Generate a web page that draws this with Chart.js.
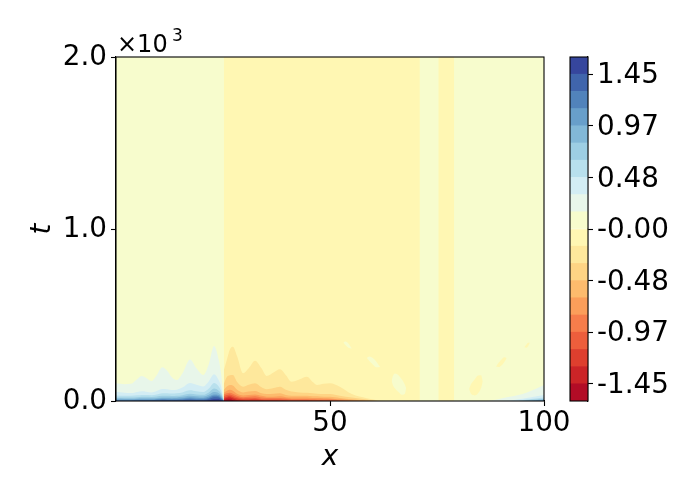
<!DOCTYPE html>
<html>
<head>
<meta charset="utf-8">
<script src="https://cdn.jsdelivr.net/npm/chart.js@4.4.1/dist/chart.umd.min.js"></script>
<style>
  html, body { margin: 0; padding: 0; background: #fff; }
  #wrap { position: relative; width: 700px; height: 500px; }
  #main { position: absolute; left: 0; top: 0; }
  #cbar { position: absolute; left: 560px; top: 0; }
</style>
</head>
<body>
<div id="wrap">
  <canvas id="main" width="700" height="500"></canvas>
  <canvas id="cbar" width="140" height="500"></canvas>
</div>
<script>
// contour levels and colorbar ticks
const levels = [-1.61, -1.449, -1.288, -1.127, -0.966, -0.805, -0.644, -0.483, -0.322, -0.161, 0,
  0.161, 0.322, 0.483, 0.644, 0.805, 0.966, 1.127, 1.288, 1.449, 1.61];
const cbTicks = [-1.449, -0.966, -0.483, 0, 0.483, 0.966, 1.449];
const cbLabels = ["-1.45", "-0.97", "-0.48", "-0.00", "0.48", "0.97", "1.45"];
const xTicks = [50, 100];
const tTicks = [0, 1000, 2000];
const tLabels = ["0.0", "1.0", "2.0"];

// vertical strips far from t=0 (x from, x to, band)
const stripFrom = [0, 25.2, 75.3];
const stripTo = [100, 71, 79];
const stripBand = [10, 9, 9];

// blue wedge, left part (contour heights in t)
const xLeft = [0, 2, 3.5, 5, 6, 7, 8.3, 9.5, 10.8, 12, 13, 14.2, 15.5, 17.3, 18.8, 20.4, 21.7, 22.9, 24, 24.6, 25.2];
const left11 = [103, 98, 100, 128, 145, 135, 116, 150, 196, 175, 140, 122, 160, 242, 190, 151, 215, 320, 240, 150, 0];
const left12 = [54, 48, 46, 52, 56, 54, 50, 58, 70, 68, 64, 66, 78, 105, 95, 85, 115, 155, 120, 80, 0];
const left13 = [32, 30, 30, 33, 35, 35, 34, 38, 45, 45, 43, 45, 50, 62, 56, 52, 72, 105, 85, 55, 0];
const left14 = [20, 20, 20, 22, 24, 24, 23, 26, 30, 30, 29, 30, 34, 42, 38, 36, 50, 72, 60, 40, 0];
const left15 = [14, 13, 13, 15, 16, 16, 16, 18, 21, 21, 20, 21, 24, 30, 27, 26, 36, 52, 45, 30, 0];
const left16 = [8, 8, 8, 10, 10, 10, 10, 12, 15, 14, 13, 14, 16, 22, 19, 18, 26, 38, 35, 22, 0];
const left17 = [4, 4, 4, 5, 6, 6, 6, 7, 10, 9, 8, 9, 10, 14, 12, 12, 18, 30, 27, 16, 0];
const left18 = [0, 0, 0, 1, 2, 2, 2, 3, 5, 4, 3, 4, 5, 8, 6, 6, 12, 22, 20, 10, 0];
const left19 = [0, 0, 0, 0, 0, 0, 0, 0, 0, 0, 0, 0, 0, 0, 0, 0, 4, 12, 12, 5, 0];

// red wedge
const xRight = [25.2, 25.9, 26.6, 27.3, 28.3, 29.7, 31, 32.5, 34, 35.2, 36.8, 38.3, 39.7, 41, 42.8, 44.6, 46, 47, 48.5, 50, 52.3, 55.1, 58.6, 61, 63];
const right8 = [180, 240, 300, 316, 260, 161, 190, 234, 190, 145, 165, 184, 150, 112, 125, 141, 110, 93, 100, 103, 83, 40, 16, 5, 0];
const right7 = [100, 140, 150, 151, 110, 83, 95, 103, 80, 68, 75, 83, 65, 55, 50, 48, 45, 42, 40, 40, 30, 20, 8, 0, 0];
const right6 = [65, 85, 93, 90, 65, 50, 55, 58, 45, 40, 42, 45, 35, 30, 30, 30, 28, 27, 25, 25, 18, 10, 3, 0, 0];
const right5 = [48, 60, 65, 60, 42, 32, 35, 38, 30, 25, 25, 27, 22, 20, 20, 20, 18, 17, 16, 15, 10, 5, 0, 0, 0];
const right4 = [38, 45, 48, 42, 30, 22, 25, 28, 20, 17, 17, 17, 14, 12, 12, 12, 10, 9, 8, 8, 4, 0, 0, 0, 0];
const right3 = [28, 35, 38, 32, 22, 15, 16, 18, 12, 10, 10, 10, 8, 6, 6, 6, 5, 4, 3, 3, 0, 0, 0, 0, 0];
const right2 = [18, 25, 27, 22, 14, 8, 9, 10, 6, 4, 4, 3, 2, 0, 0, 0, 0, 0, 0, 0, 0, 0, 0, 0, 0];
const right1 = [10, 18, 20, 14, 6, 2, 0, 0, 0, 0, 0, 0, 0, 0, 0, 0, 0, 0, 0, 0, 0, 0, 0, 0, 0];
const right0 = [4, 8, 10, 5, 0, 0, 0, 0, 0, 0, 0, 0, 0, 0, 0, 0, 0, 0, 0, 0, 0, 0, 0, 0, 0];

// blue corner at the right edge
const xEnd = [86, 88, 90, 92, 94, 96, 98, 100];
const end11 = [0, 5, 15, 25, 35, 50, 70, 93];
const end12 = [0, 0, 0, 3, 10, 18, 26, 35];
const end13 = [0, 0, 0, 0, 3, 8, 14, 20];
const end14 = [0, 0, 0, 0, 0, 4, 8, 12];
const end15 = [0, 0, 0, 0, 0, 2, 5, 8];
const end16 = [0, 0, 0, 0, 0, 0, 2, 4];

// small islands (x, upper t, lower t)
const isl1X = [53.1, 53.6, 54.3, 55.1], isl1Top = [340, 346, 335, 305], isl1Bot = [340, 325, 310, 305];
const isl2X = [58.6, 59.2, 60, 60.8, 61.7], isl2Top = [250, 258, 250, 230, 198], isl2Bot = [250, 232, 212, 196, 198];
const isl3X = [64.4, 64.7, 65.2, 66, 66.8, 67.5, 67.8], isl3Top = [115, 145, 160, 150, 125, 95, 75], isl3Bot = [115, 92, 72, 52, 36, 42, 75];
const isl4X = [82.5, 83, 83.8, 84.6, 85.3, 85.7], isl4Top = [70, 100, 125, 148, 150, 115], isl4Bot = [70, 40, 32, 45, 75, 115];
const isl5X = [88.8, 89.4, 90, 90.7, 91.3], isl5Top = [200, 222, 240, 255, 250], isl5Bot = [200, 197, 205, 225, 250];
const isl6X = [95.4, 95.9, 96.3, 96.7], isl6Top = [312, 328, 338, 338], isl6Bot = [312, 310, 318, 338];

// RdYlBu colormap
const rdylbu = ["#a50026", "#d73027", "#f46d43", "#fdae61", "#fee090", "#ffffbf",
  "#e0f3f8", "#abd9e9", "#74add1", "#4575b4", "#313695"];
function hexRgb(h) {
  return [parseInt(h.slice(1, 3), 16), parseInt(h.slice(3, 5), 16), parseInt(h.slice(5, 7), 16)];
}
function cmap(t) {
  const p = t * 10;
  const i = Math.min(9, Math.floor(p));
  const f = p - i;
  const a = hexRgb(rdylbu[i]), b = hexRgb(rdylbu[i + 1]);
  const c = a.map((v, k) => Math.round(v + (b[k] - v) * f));
  return `rgb(${c[0]}, ${c[1]}, ${c[2]})`;
}
const nBands = levels.length - 1;
function bandColor(k) {
  return cmap((k + 0.5) / nBands);
}

Chart.defaults.font.family = "DejaVu Sans";
Chart.defaults.color = "#000";

const datasets = [];
function area(xs, ys, band, fill, smooth) {
  datasets.push({
    data: xs.map((x, i) => ({ x: x, y: ys[i] })),
    backgroundColor: band === null ? "transparent" : bandColor(band),
    borderColor: "transparent",
    borderWidth: 0,
    pointRadius: 0,
    fill: fill,
    cubicInterpolationMode: smooth ? "monotone" : "default",
    tension: 0,
  });
}

// paint order: first pushed lies at the bottom
stripFrom.forEach((x0, i) => area([x0, stripTo[i]], [2000, 2000], stripBand[i], "origin", false));
[[11, left11], [12, left12], [13, left13], [14, left14], [15, left15], [16, left16], [17, left17], [18, left18], [19, left19]]
  .forEach(([b, ys]) => area(xLeft, ys, b, "origin", true));
[[8, right8], [7, right7], [6, right6], [5, right5], [4, right4], [3, right3], [2, right2], [1, right1], [0, right0]]
  .forEach(([b, ys]) => area(xRight, ys, b, "origin", true));
[[11, end11], [12, end12], [13, end13], [14, end14], [15, end15], [16, end16]]
  .forEach(([b, ys]) => area(xEnd, ys, b, "origin", true));
[[isl1X, isl1Top, isl1Bot, 10], [isl2X, isl2Top, isl2Bot, 10], [isl3X, isl3Top, isl3Bot, 10],
 [isl4X, isl4Top, isl4Bot, 9], [isl5X, isl5Top, isl5Bot, 9], [isl6X, isl6Top, isl6Bot, 9]]
  .forEach(([xs, top, bot, b]) => {
    area(xs, bot, null, false, true);
    area(xs, top, b, "-1", true);
  });
datasets.forEach((d, i) => { d.order = datasets.length - i; });

const frame = {
  id: "frame",
  afterDraw(chart) {
    const { ctx, chartArea: a } = chart;
    ctx.save();
    ctx.strokeStyle = "#000";
    ctx.lineWidth = 1.1;
    ctx.strokeRect(a.left, a.top, a.right - a.left, a.bottom - a.top);
    ctx.restore();
  },
};

// the x10^3 offset text above the t axis
const offsetText = {
  id: "offsetText",
  afterDraw(chart) {
    const { ctx, chartArea: a } = chart;
    ctx.save();
    ctx.fillStyle = "#000";
    ctx.textBaseline = "alphabetic";
    ctx.font = "24px 'DejaVu Sans'";
    ctx.fillText("×10", a.left + 1, 52);
    ctx.font = "17px 'DejaVu Sans'";
    ctx.fillText("3", a.left + 56, 41);
    ctx.restore();
  },
};

const tickFont = { family: "DejaVu Sans", size: 27.8 };
const titleFont = { family: "DejaVu Sans", size: 27.8, style: "italic" };

new Chart(document.getElementById("main"), {
  type: "line",
  data: { datasets: datasets },
  options: {
    responsive: false,
    animation: false,
    events: [],
    layout: { padding: { left: 0, top: 57, right: 156, bottom: 0 } },
    plugins: { legend: { display: false }, tooltip: { enabled: false } },
    scales: {
      x: {
        type: "linear",
        min: 0,
        max: 100,
        afterBuildTicks: (s) => { s.ticks = xTicks.map((v) => ({ value: v })); },
        afterFit: (s) => { s.height = 99; },
        grid: { drawOnChartArea: false, tickLength: 5, color: "#000", tickWidth: 1.1 },
        border: { color: "#000", width: 1.1 },
        ticks: { font: tickFont, color: "#000", padding: 1, maxRotation: 0, autoSkip: false },
        title: { display: true, text: "x", font: titleFont, color: "#000", padding: { top: 0, bottom: 26 } },
      },
      y: {
        type: "linear",
        min: 0,
        max: 2000,
        afterBuildTicks: (s) => { s.ticks = tTicks.map((v) => ({ value: v })); },
        afterFit: (s) => { s.width = 116; },
        grid: { drawOnChartArea: false, tickLength: 5, color: "#000", tickWidth: 1.1 },
        border: { color: "#000", width: 1.1 },
        ticks: { font: tickFont, color: "#000", padding: 4, labelOffset: 1, callback: (v, i) => tLabels[i] },
        title: { display: true, text: "t", font: titleFont, color: "#000", padding: { top: 26, bottom: 0 } },
      },
    },
  },
  plugins: [frame, offsetText],
});

// colorbar
const cbSets = [];
for (let k = 0; k < nBands; k++) {
  cbSets.push({
    data: [[levels[k], levels[k + 1]]],
    backgroundColor: bandColor(k),
    borderWidth: 0,
  });
}

new Chart(document.getElementById("cbar"), {
  type: "bar",
  data: { labels: [""], datasets: cbSets },
  options: {
    responsive: false,
    animation: false,
    events: [],
    layout: { padding: { left: 10, top: 57, right: 0, bottom: 99 } },
    plugins: { legend: { display: false }, tooltip: { enabled: false } },
    datasets: { bar: { grouped: false, barPercentage: 1, categoryPercentage: 1 } },
    scales: {
      x: { display: false },
      y: {
        position: "right",
        min: levels[0],
        max: levels[levels.length - 1],
        afterBuildTicks: (s) => { s.ticks = cbTicks.map((v) => ({ value: v })); },
        afterFit: (s) => { s.width = 112; },
        grid: { drawOnChartArea: false, tickLength: 5, color: "#000", tickWidth: 1.1 },
        border: { color: "#000", width: 1.1 },
        ticks: { font: tickFont, color: "#000", padding: 4, labelOffset: 2, callback: (v, i) => cbLabels[i] },
      },
    },
  },
  plugins: [frame],
});
</script>
</body>
</html>
